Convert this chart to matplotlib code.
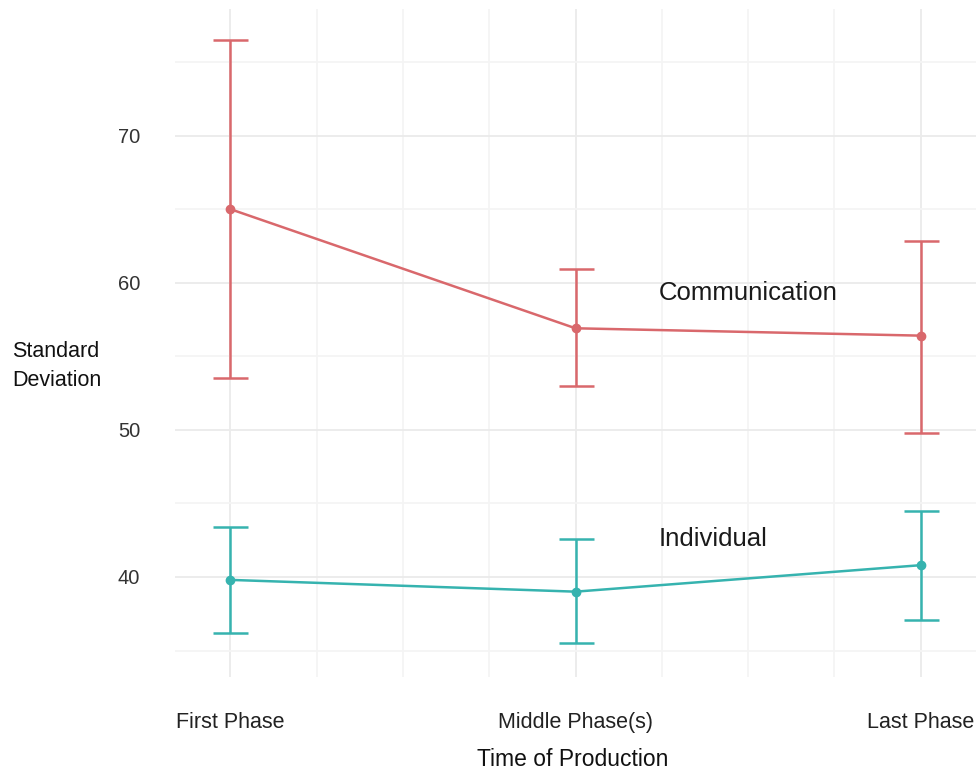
import matplotlib
matplotlib.use("Agg")
import matplotlib.pyplot as plt
import numpy as np

plt.rcParams['font.family'] = ['Liberation Sans', 'DejaVu Sans']

phases = ["First Phase", "Middle Phase(s)", "Last Phase"]

comm_mean = [65.0, 56.9, 56.4]
comm_low = [53.5, 53.0, 49.8]
comm_high = [76.5, 60.9, 62.8]

indiv_mean = [39.8, 39.0, 40.8]
indiv_low = [36.2, 35.5, 37.1]
indiv_high = [43.4, 42.6, 44.5]

red = '#D9686C'
teal = '#36B3AF'

fig = plt.figure(figsize=(9.76, 7.76), dpi=100)
ax = fig.add_axes([175/976, 1-677/776, (976-175)/976, (677-9)/776])

x = np.arange(len(phases))

for mean, lo, hi, col in [(comm_mean, comm_low, comm_high, red),
                          (indiv_mean, indiv_low, indiv_high, teal)]:
    m = np.array(mean)
    err = [m - np.array(lo), np.array(hi) - m]
    ax.errorbar(x, m, yerr=err, color=col, lw=1.8, elinewidth=1.8,
                capsize=12.6, capthick=1.8, marker='o', ms=6, zorder=3)

ax.text(1.5, 59.3, "Communication", fontsize=18.5, ha='center', va='center', color='#1a1a1a')
ax.text(1.24, 42.6, "Individual", fontsize=18.5, ha='left', va='center', color='#1a1a1a')

ax.set_xlim(-0.16, 2.16)
ax.set_ylim(33.2, 78.6)
ax.set_xticks(x)
ax.set_xticklabels(phases)
ax.set_yticks([40, 50, 60, 70])
ax.set_xticks(np.arange(0, 2.01, 0.25), minor=True)
ax.set_yticks([35, 45, 55, 65, 75], minor=True)
ax.grid(which='major', color='#ebebeb', lw=1.3)
ax.grid(which='minor', color='#f4f4f4', lw=1.3)
ax.set_axisbelow(True)
for s in ax.spines.values():
    s.set_visible(False)
ax.tick_params(which='both', length=0)
ax.tick_params(axis='x', labelsize=15.5, pad=25, colors='#222222')
ax.tick_params(axis='y', labelsize=14.5, pad=25, colors='#333333')

fig.text(573/976, 1-760/776, "Time of Production", fontsize=16.5, ha='center', va='center', color='#111111')
fig.text(12/976, 1-366/776, "Standard\nDeviation", fontsize=15.5, ha='left', va='center',
         color='#111111', linespacing=1.45)

fig.savefig("out.png", dpi=100)
